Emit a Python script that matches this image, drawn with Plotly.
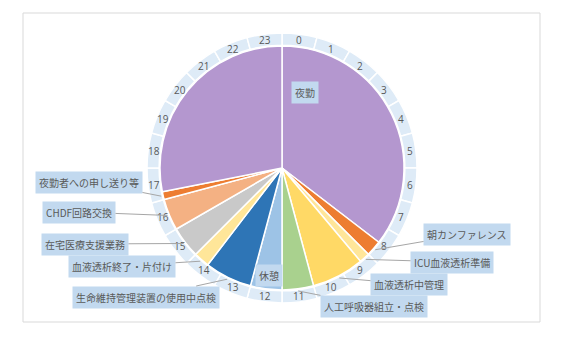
import math
import plotly.graph_objects as go

# ---- data ----
hours = [str(h) for h in range(24)]
hour_slots = [1] * 24

tasks = ["夜勤", "朝カンファレンス", "ICU血液透析準備", "血液透析中管理",
         "人工呼吸器組立・点検", "休憩", "生命維持管理装置の使用中点検",
         "血液透析終了・片付け", "在宅医療支援業務", "CHDF回路交換",
         "夜勤者への申し送り等", "夜勤"]
durations = [8.5, 0.5, 0.33, 1.67, 1.0, 1.0, 1.5, 0.5, 1.0, 1.0, 0.25, 6.75]
colors = ["#B497CF", "#ED7D31", "#FFE699", "#FFD966", "#A9D18E", "#9DC3E6",
          "#2E75B6", "#FFE699", "#C9C9C9", "#F4B183", "#ED7D31", "#B497CF"]

# label box centres (px) for each task (None = no label)
label_pos = [(305, 92), (467, 234), (452, 262), (409, 284), (374, 306),
             (269, 275), (146, 297), (122, 266), (85, 244), (79, 212),
             (89, 182), None]
leader = [False, True, True, True, True, False, True, True, True, True, True, False]

# ---- layout geometry ----
W, H = 564, 337
CX, CY = 282, 168
R_PIE = 122
R_RING = 135
HOLE = 0.91

def dom(r):
    return dict(x=[(CX - r) / W, (CX + r) / W],
                y=[(H - CY - r) / H, (H - CY + r) / H])

fig = go.Figure()

fig.add_trace(go.Pie(
    values=hour_slots, labels=hours, textinfo="none",
    hole=HOLE, sort=False, direction="clockwise", rotation=0,
    marker=dict(colors=["#DEEBF7"] * 24, line=dict(color="white", width=1.5)),
    domain=dom(R_RING), hoverinfo="skip", showlegend=False))

fig.add_trace(go.Pie(
    values=durations, labels=list(range(len(tasks))), hovertext=tasks,
    hoverinfo="text", textinfo="none", sort=False, direction="clockwise",
    rotation=0, marker=dict(colors=colors, line=dict(color="white", width=1.5)),
    domain=dom(R_PIE), showlegend=False))

# ---- hour numbers in the ring ----
ring_total = sum(hour_slots)
r_mid = R_RING * (1 + HOLE) / 2
cum = 0
for lab, v in zip(hours, hour_slots):
    a = (cum + v / 2) / ring_total * 2 * math.pi
    cum += v
    px = CX + r_mid * math.sin(a)
    py = CY - r_mid * math.cos(a)
    fig.add_annotation(x=px / W, y=1 - py / H, xref="paper", yref="paper",
                       xanchor="center", yanchor="middle",
                       text=lab, showarrow=False,
                       font=dict(size=10, color="#595959", family="Open Sans"))

# ---- task labels ----
total = sum(durations)
cum = 0
for name, d, pos, ld in zip(tasks, durations, label_pos, leader):
    mid = (cum + d / 2) / total * 2 * math.pi
    cum += d
    if pos is None:
        continue
    font = dict(size=10, color="#595959", family="Noto Sans CJK JP")
    if ld:
        rr = R_PIE + 2
        px = CX + rr * math.sin(mid)
        py = CY - rr * math.cos(mid)
        fig.add_annotation(x=px / W, y=1 - py / H, xref="paper", yref="paper",
                           text=name, showarrow=True, arrowhead=0, arrowwidth=1,
                           arrowcolor="#A6A6A6", ax=pos[0] - px, ay=pos[1] - py,
                           bgcolor="#C2D9EF", borderpad=3, font=font)
    else:
        fig.add_annotation(x=pos[0] / W, y=1 - pos[1] / H, xref="paper",
                           yref="paper", xanchor="center", yanchor="middle",
                           text=name, showarrow=False,
                           bgcolor="#C2D9EF", borderpad=3, font=font)

fig.add_shape(type="rect", xref="paper", yref="paper",
              x0=23 / W, x1=540 / W, y0=1 - 322 / H, y1=1 - 13 / H,
              line=dict(color="#D9D9D9", width=1))

fig.update_layout(width=W, height=H, margin=dict(l=0, r=0, t=0, b=0),
                  paper_bgcolor="white", plot_bgcolor="white")

fig.write_html("out.html")
